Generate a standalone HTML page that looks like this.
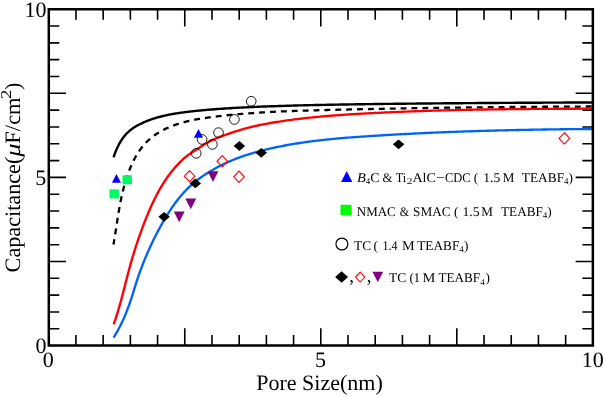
<!DOCTYPE html>
<html><head><meta charset="utf-8"><style>
html,body{margin:0;padding:0;background:#fff;}
svg{display:block;will-change:transform;}
text{font-family:"Liberation Serif",serif;fill:#000;text-rendering:geometricPrecision;}
</style></head><body>
<svg width="604" height="397" viewBox="0 0 604 397">
<rect width="604" height="397" fill="#fff"/>
<defs><clipPath id="cp"><rect x="48.75" y="9.2" width="544" height="336.4"/></clipPath></defs>

<path d="M75.95,345.5v-10.5M75.95,9.25v10.5M48.8,328.78h10.5M592.85,328.78h-10.5M103.16,345.5v-10.5M103.16,9.25v10.5M48.8,311.96h10.5M592.85,311.96h-10.5M130.37,345.5v-10.5M130.37,9.25v10.5M48.8,295.14h10.5M592.85,295.14h-10.5M157.57,345.5v-10.5M157.57,9.25v10.5M48.8,278.32h10.5M592.85,278.32h-10.5M184.77,345.5v-17.2M184.77,9.25v17.2M48.8,261.50h17.2M592.85,261.50h-17.2M211.98,345.5v-10.5M211.98,9.25v10.5M48.8,244.68h10.5M592.85,244.68h-10.5M239.19,345.5v-10.5M239.19,9.25v10.5M48.8,227.86h10.5M592.85,227.86h-10.5M266.39,345.5v-10.5M266.39,9.25v10.5M48.8,211.04h10.5M592.85,211.04h-10.5M293.59,345.5v-10.5M293.59,9.25v10.5M48.8,194.22h10.5M592.85,194.22h-10.5M320.80,345.5v-17.2M320.80,9.25v17.2M48.8,177.40h17.2M592.85,177.40h-17.2M348.00,345.5v-10.5M348.00,9.25v10.5M48.8,160.58h10.5M592.85,160.58h-10.5M375.21,345.5v-10.5M375.21,9.25v10.5M48.8,143.76h10.5M592.85,143.76h-10.5M402.41,345.5v-10.5M402.41,9.25v10.5M48.8,126.94h10.5M592.85,126.94h-10.5M429.62,345.5v-10.5M429.62,9.25v10.5M48.8,110.12h10.5M592.85,110.12h-10.5M456.82,345.5v-17.2M456.82,9.25v17.2M48.8,93.30h17.2M592.85,93.30h-17.2M484.03,345.5v-10.5M484.03,9.25v10.5M48.8,76.48h10.5M592.85,76.48h-10.5M511.23,345.5v-10.5M511.23,9.25v10.5M48.8,59.66h10.5M592.85,59.66h-10.5M538.44,345.5v-10.5M538.44,9.25v10.5M48.8,42.84h10.5M592.85,42.84h-10.5M565.64,345.5v-10.5M565.64,9.25v10.5M48.8,26.02h10.5M592.85,26.02h-10.5" stroke="#000" stroke-width="1.6" fill="none"/>
<g clip-path="url(#cp)" fill="none" stroke-linecap="butt">
<path d="M113.58,157.41L114.07,155.90L114.57,154.46L115.06,153.10L115.56,151.80L116.05,150.57L116.55,149.39L117.04,148.27L117.54,147.19L118.03,146.17L118.52,145.18L119.02,144.24L119.51,143.34L120.01,142.47L120.50,141.64L121.00,140.84L121.49,140.07L121.99,139.33L122.48,138.61L122.97,137.93L123.47,137.26L123.96,136.62L124.46,136.00L124.95,135.40L125.45,134.84L125.94,134.30L126.44,133.78L126.93,133.27L127.42,132.78L127.92,132.31L128.41,131.85L128.91,131.41L129.40,130.97L129.90,130.56L130.39,130.15L130.89,129.76L131.38,129.37L131.88,129.00L132.37,128.64L132.86,128.29L133.36,127.95L133.85,127.61L134.35,127.29L134.84,126.98L135.34,126.67L135.83,126.37L136.33,126.08L136.82,125.80L137.31,125.53L137.81,125.26L138.30,125.00L138.80,124.74L139.29,124.50L139.79,124.25L140.28,124.02L140.78,123.79L141.27,123.56L141.76,123.34L142.26,123.11L142.75,122.87L143.25,122.64L143.74,122.41L144.24,122.18L144.73,121.96L145.23,121.74L145.72,121.53L146.21,121.32L146.71,121.12L147.20,120.92L147.70,120.72L148.19,120.53L148.69,120.34L149.18,120.15L149.68,119.97L150.17,119.79L150.67,119.61L151.16,119.44L151.65,119.27L152.15,119.10L152.64,118.93L153.14,118.77L153.63,118.61L154.13,118.45L154.62,118.30L155.12,118.14L155.61,117.99L156.10,117.85L156.60,117.70L157.09,117.56L157.59,117.42L158.08,117.28L158.58,117.15L159.07,117.01L159.57,116.88L160.06,116.75L160.55,116.62L161.05,116.49L161.54,116.37L162.04,116.25L162.53,116.13L163.03,116.01L163.52,115.89L164.02,115.77L164.51,115.66L165.00,115.55L165.50,115.43L165.99,115.32L166.49,115.21L166.98,115.11L167.48,115.00L167.97,114.90L168.47,114.79L168.96,114.69L169.46,114.59L169.95,114.49L170.44,114.40L170.94,114.31L171.43,114.22L171.93,114.13L172.42,114.05L172.92,113.96L173.41,113.87L173.91,113.79L174.40,113.71L174.89,113.63L175.39,113.55L175.88,113.47L176.38,113.39L176.87,113.31L177.37,113.23L177.86,113.16L178.36,113.08L178.85,113.01L179.34,112.94L179.84,112.86L180.33,112.79L180.83,112.72L181.32,112.65L181.82,112.58L182.31,112.52L182.81,112.45L183.30,112.38L183.79,112.32L184.29,112.25L184.78,112.19L185.28,112.12L185.77,112.06L186.27,112.00L186.76,111.94L187.26,111.88L187.75,111.82L188.25,111.76L188.74,111.70L189.23,111.64L189.73,111.58L190.22,111.52L190.72,111.47L191.21,111.41L191.71,111.36L192.20,111.30L192.70,111.25L193.19,111.19L193.68,111.14L194.18,111.09L194.67,111.03L195.17,110.98L195.66,110.93L196.16,110.88L196.65,110.83L197.15,110.78L197.64,110.73L198.13,110.68L198.63,110.64L199.12,110.59L199.62,110.54L200.11,110.49L200.61,110.45L201.10,110.40L201.60,110.35L202.09,110.30L202.58,110.26L203.08,110.21L203.57,110.17L204.07,110.12L204.56,110.08L205.06,110.03L205.55,109.99L206.05,109.94L206.54,109.90L207.04,109.86L207.53,109.82L208.02,109.77L208.52,109.73L209.01,109.69L209.51,109.65L210.00,109.61L210.50,109.57L210.99,109.53L211.49,109.49L211.98,109.45L214.55,109.25L217.13,109.06L219.70,108.87L222.28,108.70L224.85,108.53L227.43,108.36L230.00,108.20L232.58,108.05L235.15,107.91L237.72,107.76L240.30,107.63L242.87,107.49L245.45,107.36L248.02,107.24L250.60,107.12L253.17,107.00L255.75,106.89L258.32,106.78L260.89,106.67L263.47,106.57L266.04,106.47L268.62,106.38L271.19,106.28L273.77,106.19L276.34,106.10L278.92,106.02L281.49,105.93L284.06,105.85L286.64,105.77L289.21,105.69L291.79,105.62L294.36,105.54L296.94,105.47L299.51,105.40L302.09,105.34L304.66,105.28L307.23,105.22L309.81,105.16L312.38,105.10L314.96,105.05L317.53,104.99L320.11,104.94L322.68,104.89L325.26,104.84L327.83,104.79L330.40,104.74L332.98,104.69L335.55,104.64L338.13,104.60L340.70,104.55L343.28,104.51L345.85,104.47L348.42,104.43L351.00,104.39L353.57,104.35L356.15,104.31L358.72,104.27L361.30,104.23L363.87,104.19L366.45,104.16L369.02,104.12L371.59,104.09L374.17,104.05L376.74,104.02L379.32,103.99L381.89,103.95L384.47,103.92L387.04,103.89L389.62,103.86L392.19,103.83L394.76,103.80L397.34,103.77L399.91,103.74L402.49,103.71L405.06,103.69L407.64,103.66L410.21,103.63L412.79,103.61L415.36,103.58L417.93,103.55L420.51,103.53L423.08,103.50L425.66,103.48L428.23,103.46L430.81,103.43L433.38,103.41L435.96,103.39L438.53,103.36L441.10,103.34L443.68,103.32L446.25,103.30L448.83,103.28L451.40,103.26L453.98,103.24L456.55,103.22L459.13,103.20L461.70,103.18L464.27,103.16L466.85,103.14L469.42,103.12L472.00,103.10L474.57,103.08L477.15,103.06L479.72,103.04L482.30,103.03L484.87,103.01L487.44,102.99L490.02,102.98L492.59,102.96L495.17,102.94L497.74,102.93L500.32,102.91L502.89,102.89L505.47,102.88L508.04,102.86L510.61,102.85L513.19,102.83L515.76,102.82L518.34,102.80L520.91,102.79L523.49,102.77L526.06,102.76L528.64,102.74L531.21,102.73L533.78,102.72L536.36,102.70L538.93,102.69L541.51,102.68L544.08,102.66L546.66,102.65L549.23,102.64L551.81,102.63L554.38,102.61L556.95,102.60L559.53,102.59L562.10,102.58L564.68,102.56L567.25,102.55L569.83,102.54L572.40,102.53L574.98,102.52L577.55,102.51L580.12,102.49L582.70,102.48L585.27,102.47L587.85,102.46L590.42,102.45L593.00,102.44L595.57,102.43" stroke="#000" stroke-width="2.4"/>
<path d="M113.46,244.51L113.70,243.14L113.94,241.77L114.17,240.40L114.40,239.02L114.63,237.64L114.85,236.26L115.07,234.87L115.29,233.49L115.51,232.10L115.73,230.71L115.94,229.33L116.16,227.93L116.37,226.54L116.59,225.15L116.80,223.76L117.02,222.36L117.24,220.97L117.45,219.57L117.67,218.18L117.90,216.78L118.12,215.38L118.35,213.99L118.58,212.59L118.82,211.20L119.06,209.80L119.30,208.41L119.55,207.02L119.80,205.62L120.06,204.23L120.32,202.84L120.60,201.45L120.87,200.06L121.16,198.68L121.45,197.29L121.75,195.91L122.05,194.53L122.37,193.15L122.69,191.77L123.03,190.40L123.37,189.03L123.72,187.66L124.08,186.29L124.45,184.93L124.84,183.57L125.23,182.21L125.64,180.85L126.05,179.50L126.48,178.15L126.93,176.81L127.38,175.47L127.85,174.13L128.33,172.80L128.83,171.47L129.34,170.15L129.87,168.82L130.41,167.51L130.96,166.20L131.54,164.90L132.13,163.60L132.73,162.31L133.36,161.03L134.00,159.76L134.66,158.50L135.34,157.26L136.04,156.02L136.77,154.80L137.51,153.59L138.27,152.40L139.06,151.23L139.87,150.07L140.69,148.93L141.55,147.80L142.42,146.70L143.31,145.62L144.23,144.55L145.17,143.51L146.13,142.50L147.11,141.50L148.11,140.54L149.14,139.59L150.18,138.68L151.25,137.78L152.34,136.91L153.44,136.07L154.57,135.25L155.71,134.45L156.87,133.68L158.04,132.93L159.24,132.20L160.44,131.50L161.66,130.81L162.90,130.15L164.15,129.51L165.41,128.89L166.68,128.29L167.97,127.71L169.26,127.15L170.57,126.60L171.88,126.08L173.21,125.58L174.54,125.09L175.88,124.63L177.22,124.18L178.57,123.74L179.93,123.33L181.29,122.93L182.66,122.54L184.02,122.18L185.39,121.82L186.77,121.49L188.14,121.16L189.52,120.86L190.90,120.56L192.28,120.27L193.67,120.00L195.05,119.73L196.44,119.48L197.83,119.23L199.22,118.99L200.61,118.76L202.00,118.53L203.39,118.31L204.79,118.09L206.19,117.88L207.58,117.67L208.98,117.47L210.38,117.28L211.78,117.09L213.19,116.90L214.59,116.72L215.99,116.54L217.40,116.37L218.80,116.20L220.21,116.03L221.61,115.87L223.02,115.71L224.43,115.56L225.83,115.41L227.24,115.26L228.65,115.12L230.06,114.98L231.46,114.84L232.87,114.70L234.28,114.57L235.69,114.44L237.10,114.31L238.50,114.19L239.91,114.07L241.32,113.95L242.73,113.83L244.14,113.72L245.54,113.60L246.95,113.49L248.36,113.39L249.77,113.28L251.18,113.18L252.59,113.08L253.99,112.98L255.40,112.88L256.81,112.79L258.22,112.70L259.63,112.61L261.04,112.52L262.45,112.44L263.85,112.35L265.26,112.27L266.67,112.19L268.08,112.11L269.49,112.04L270.90,111.96L272.31,111.89L273.72,111.82L275.12,111.75L276.53,111.68L277.94,111.61L279.35,111.55L280.76,111.48L282.17,111.42L283.58,111.36L284.99,111.30L286.40,111.25L287.81,111.19L289.22,111.13L290.63,111.08L292.04,111.03L293.45,110.98L294.85,110.93L296.26,110.88L297.67,110.83L299.08,110.78L300.49,110.74L301.90,110.69L303.31,110.65L304.72,110.60L306.13,110.56L307.54,110.52L308.95,110.48L310.36,110.44L311.77,110.40L313.18,110.36L314.59,110.32L316.00,110.28L317.41,110.24L318.82,110.21L320.23,110.17L321.64,110.14L323.05,110.10L324.46,110.06L325.87,110.03L327.28,109.99L328.69,109.96L330.10,109.93L331.51,109.89L332.92,109.86L334.33,109.82L335.74,109.79L337.15,109.76L338.56,109.72L339.97,109.69L341.38,109.66L342.79,109.62L344.21,109.59L345.62,109.56L347.03,109.53L348.44,109.49L349.85,109.46L351.26,109.43L352.67,109.40L354.08,109.37L355.49,109.34L356.90,109.31L358.31,109.27L359.72,109.24L361.13,109.21L362.54,109.18L363.95,109.15L365.36,109.12L366.78,109.09L368.19,109.06L369.60,109.03L371.01,109.00L372.42,108.97L373.83,108.95L375.24,108.92L376.65,108.89L378.06,108.86L379.47,108.83L380.89,108.80L382.30,108.78L383.71,108.75L385.12,108.72L386.53,108.69L387.94,108.67L389.35,108.64L390.76,108.61L392.17,108.59L393.58,108.56L395.00,108.53L396.41,108.51L397.82,108.48L399.23,108.46L400.64,108.43L402.05,108.41L403.46,108.38L404.87,108.36L406.29,108.33L407.70,108.31L409.11,108.28L410.52,108.26L411.93,108.24L413.34,108.21L414.75,108.19L416.16,108.17L417.58,108.14L418.99,108.12L420.40,108.10L421.81,108.08L423.22,108.05L424.63,108.03L426.04,108.01L427.46,107.99L428.87,107.97L430.28,107.95L431.69,107.92L433.10,107.90L434.51,107.88L435.92,107.86L437.34,107.84L438.75,107.82L440.16,107.80L441.57,107.78L442.98,107.76L444.39,107.74L445.81,107.73L447.22,107.71L448.63,107.69L450.04,107.67L451.45,107.65L452.86,107.63L454.27,107.62L455.69,107.60L457.10,107.58L458.51,107.56L459.92,107.54L461.33,107.53L462.74,107.51L464.16,107.49L465.57,107.48L466.98,107.46L468.39,107.44L469.80,107.43L471.21,107.41L472.62,107.40L474.04,107.38L475.45,107.36L476.86,107.35L478.27,107.33L479.68,107.32L481.09,107.30L482.51,107.29L483.92,107.27L485.33,107.26L486.74,107.24L488.15,107.23L489.56,107.22L490.98,107.20L492.39,107.19L493.80,107.17L495.21,107.16L496.62,107.15L498.03,107.13L499.44,107.12L500.86,107.11L502.27,107.09L503.68,107.08L505.09,107.07L506.50,107.06L507.91,107.04L509.32,107.03L510.74,107.02L512.15,107.01L513.56,106.99L514.97,106.98L516.38,106.97L517.79,106.96L519.21,106.95L520.62,106.94L522.03,106.92L523.44,106.91L524.85,106.90L526.26,106.89L527.67,106.88L529.09,106.87L530.50,106.86L531.91,106.85L533.32,106.84L534.73,106.83L536.14,106.82L537.55,106.81L538.96,106.80L540.38,106.79L541.79,106.78L543.20,106.77L544.61,106.76L546.02,106.75L547.43,106.74L548.84,106.73L550.25,106.72L551.67,106.71L553.08,106.70L554.49,106.69L555.90,106.68L557.31,106.67L558.72,106.66L560.13,106.65L561.54,106.65L562.95,106.64L564.37,106.63L565.78,106.62L567.19,106.61L568.60,106.60L570.01,106.59L571.42,106.59L572.83,106.58L574.24,106.57L575.65,106.56L577.06,106.55L578.48,106.54L579.89,106.54L581.30,106.53L582.71,106.52L584.12,106.51L585.53,106.51L586.94,106.50L588.35,106.49L589.76,106.48L591.17,106.47L592.58,106.47L593.99,106.46" stroke="#000" stroke-width="2.3" stroke-dashoffset="0.6" stroke-dasharray="5.9 4.99"/>
<path d="M113.66,324.38L114.17,322.94L114.67,321.50L115.16,320.06L115.64,318.62L116.11,317.18L116.58,315.73L117.03,314.29L117.48,312.84L117.92,311.39L118.36,309.95L118.78,308.50L119.20,307.05L119.62,305.60L120.03,304.15L120.43,302.70L120.83,301.25L121.23,299.79L121.62,298.34L122.01,296.89L122.39,295.44L122.77,293.98L123.15,292.53L123.53,291.07L123.90,289.62L124.28,288.17L124.65,286.71L125.02,285.26L125.39,283.80L125.76,282.35L126.13,280.90L126.51,279.44L126.88,277.99L127.25,276.53L127.63,275.08L128.01,273.63L128.39,272.18L128.77,270.72L129.16,269.27L129.55,267.82L129.94,266.37L130.34,264.92L130.74,263.47L131.15,262.03L131.57,260.58L131.98,259.13L132.41,257.69L132.84,256.24L133.28,254.80L133.72,253.36L134.16,251.92L134.62,250.48L135.07,249.04L135.53,247.60L136.00,246.16L136.47,244.73L136.95,243.29L137.43,241.86L137.91,240.43L138.40,239.00L138.89,237.57L139.39,236.15L139.89,234.72L140.40,233.30L140.91,231.88L141.42,230.46L141.94,229.04L142.46,227.63L142.99,226.22L143.52,224.80L144.06,223.39L144.61,221.99L145.15,220.58L145.71,219.18L146.27,217.78L146.83,216.38L147.41,214.98L147.98,213.59L148.57,212.20L149.16,210.81L149.76,209.43L150.36,208.05L150.98,206.67L151.60,205.29L152.23,203.93L152.87,202.56L153.51,201.20L154.17,199.84L154.84,198.49L155.51,197.15L156.20,195.81L156.89,194.47L157.60,193.15L158.32,191.82L159.05,190.51L159.79,189.20L160.54,187.90L161.30,186.61L162.08,185.32L162.87,184.04L163.67,182.77L164.48,181.51L165.31,180.25L166.15,179.01L167.01,177.77L167.88,176.54L168.77,175.32L169.67,174.12L170.58,172.92L171.51,171.73L172.46,170.55L173.42,169.38L174.40,168.23L175.40,167.08L176.41,165.95L177.44,164.82L178.49,163.72L179.55,162.62L180.64,161.55L181.73,160.49L182.84,159.46L183.97,158.45L185.11,157.47L186.27,156.52L187.44,155.61L188.62,154.73L189.82,153.88L191.02,153.07L192.24,152.28L193.47,151.50L194.72,150.72L195.97,149.92L197.23,149.10L198.51,148.26L199.79,147.42L201.08,146.57L202.38,145.73L203.69,144.90L205.00,144.08L206.32,143.29L207.65,142.53L208.99,141.79L210.33,141.09L211.68,140.42L213.03,139.77L214.40,139.14L215.76,138.54L217.13,137.95L218.51,137.39L219.89,136.84L221.28,136.31L222.68,135.79L224.08,135.28L225.48,134.79L226.89,134.30L228.30,133.82L229.72,133.35L231.14,132.88L232.57,132.41L234.00,131.94L235.43,131.49L236.87,131.03L238.31,130.58L239.75,130.14L241.20,129.71L242.65,129.28L244.11,128.86L245.57,128.45L247.03,128.05L248.49,127.67L249.96,127.29L251.42,126.92L252.89,126.57L254.37,126.22L255.84,125.89L257.32,125.57L258.80,125.25L260.28,124.95L261.76,124.65L263.24,124.36L264.72,124.08L266.21,123.80L267.69,123.54L269.18,123.27L270.67,123.01L272.15,122.76L273.64,122.51L275.13,122.26L276.62,122.02L278.11,121.79L279.60,121.55L281.09,121.33L282.58,121.10L284.07,120.88L285.56,120.66L287.05,120.45L288.54,120.24L290.04,120.04L291.53,119.84L293.02,119.64L294.51,119.45L296.01,119.26L297.50,119.07L299.00,118.89L300.49,118.71L301.99,118.53L303.48,118.36L304.98,118.19L306.48,118.02L307.97,117.86L309.47,117.70L310.97,117.55L312.47,117.39L313.96,117.24L315.46,117.09L316.96,116.95L318.46,116.81L319.96,116.67L321.46,116.53L322.96,116.40L324.46,116.26L325.96,116.13L327.46,116.01L328.96,115.88L330.46,115.76L331.96,115.64L333.46,115.53L334.96,115.41L336.47,115.30L337.97,115.19L339.47,115.08L340.97,114.97L342.47,114.87L343.98,114.76L345.48,114.66L346.98,114.56L348.49,114.47L349.99,114.37L351.49,114.28L353.00,114.18L354.50,114.09L356.00,114.00L357.51,113.92L359.01,113.83L360.51,113.74L362.02,113.66L363.52,113.58L365.03,113.49L366.53,113.41L368.04,113.33L369.54,113.25L371.05,113.18L372.55,113.10L374.05,113.02L375.56,112.95L377.06,112.87L378.57,112.80L380.07,112.73L381.58,112.65L383.08,112.58L384.59,112.51L386.09,112.44L387.60,112.38L389.10,112.31L390.61,112.24L392.12,112.18L393.62,112.11L395.13,112.05L396.63,111.98L398.14,111.92L399.64,111.86L401.15,111.80L402.65,111.74L404.16,111.68L405.66,111.62L407.17,111.56L408.68,111.50L410.18,111.45L411.69,111.39L413.19,111.34L414.70,111.28L416.21,111.23L417.71,111.18L419.22,111.13L420.72,111.07L422.23,111.02L423.74,110.97L425.24,110.93L426.75,110.88L428.25,110.83L429.76,110.78L431.27,110.74L432.77,110.69L434.28,110.65L435.79,110.60L437.29,110.56L438.80,110.52L440.31,110.47L441.81,110.43L443.32,110.39L444.83,110.35L446.33,110.31L447.84,110.27L449.35,110.23L450.85,110.20L452.36,110.16L453.87,110.12L455.37,110.09L456.88,110.05L458.39,110.02L459.89,109.98L461.40,109.95L462.91,109.92L464.41,109.88L465.92,109.85L467.43,109.82L468.93,109.79L470.44,109.76L471.95,109.73L473.45,109.70L474.96,109.67L476.47,109.65L477.97,109.62L479.48,109.59L480.99,109.57L482.50,109.54L484.00,109.51L485.51,109.49L487.02,109.46L488.52,109.44L490.03,109.42L491.54,109.39L493.04,109.37L494.55,109.35L496.06,109.33L497.57,109.31L499.07,109.29L500.58,109.27L502.09,109.25L503.59,109.23L505.10,109.21L506.61,109.19L508.11,109.17L509.62,109.16L511.13,109.14L512.64,109.12L514.14,109.10L515.65,109.09L517.16,109.07L518.66,109.06L520.17,109.04L521.68,109.03L523.18,109.01L524.69,109.00L526.20,108.99L527.71,108.97L529.21,108.96L530.72,108.95L532.23,108.94L533.73,108.93L535.24,108.91L536.75,108.90L538.25,108.89L539.76,108.88L541.27,108.87L542.77,108.86L544.28,108.85L545.79,108.84L547.29,108.83L548.80,108.82L550.31,108.82L551.82,108.81L553.32,108.80L554.83,108.79L556.34,108.79L557.84,108.78L559.35,108.77L560.85,108.76L562.36,108.76L563.87,108.75L565.37,108.75L566.88,108.74L568.39,108.73L569.89,108.73L571.40,108.72L572.91,108.72L574.41,108.71L575.92,108.71L577.43,108.70L578.93,108.70L580.44,108.69L581.94,108.69L583.45,108.69L584.96,108.68L586.46,108.68L587.97,108.68L589.47,108.67L590.98,108.67L592.49,108.67L593.99,108.66" stroke="#ff0000" stroke-width="2.35"/>
<path d="M113.56,337.60L114.34,336.37L115.10,335.12L115.84,333.87L116.58,332.61L117.30,331.34L118.01,330.06L118.71,328.77L119.39,327.48L120.06,326.17L120.72,324.86L121.37,323.55L122.00,322.22L122.63,320.89L123.24,319.55L123.84,318.21L124.43,316.86L125.01,315.51L125.58,314.15L126.14,312.79L126.68,311.42L127.22,310.05L127.74,308.67L128.26,307.29L128.77,305.91L129.26,304.52L129.75,303.13L130.23,301.74L130.69,300.35L131.16,298.95L131.61,297.55L132.06,296.16L132.50,294.76L132.94,293.36L133.38,291.96L133.81,290.56L134.25,289.16L134.68,287.76L135.12,286.36L135.55,284.96L135.99,283.56L136.44,282.17L136.89,280.78L137.34,279.39L137.80,278.00L138.27,276.61L138.75,275.23L139.23,273.85L139.72,272.47L140.21,271.09L140.72,269.72L141.23,268.35L141.74,266.98L142.26,265.62L142.79,264.25L143.33,262.89L143.87,261.53L144.42,260.18L144.97,258.82L145.53,257.47L146.10,256.12L146.68,254.78L147.26,253.43L147.84,252.09L148.44,250.75L149.04,249.41L149.64,248.08L150.26,246.74L150.88,245.41L151.50,244.08L152.13,242.76L152.77,241.43L153.41,240.11L154.06,238.79L154.72,237.47L155.38,236.16L156.05,234.84L156.73,233.53L157.41,232.22L158.10,230.92L158.79,229.62L159.49,228.32L160.20,227.02L160.91,225.73L161.63,224.44L162.35,223.16L163.09,221.88L163.83,220.61L164.57,219.34L165.33,218.07L166.09,216.82L166.85,215.56L167.63,214.32L168.41,213.08L169.20,211.84L170.00,210.62L170.80,209.40L171.61,208.18L172.43,206.98L173.26,205.78L174.10,204.59L174.95,203.41L175.81,202.23L176.68,201.07L177.57,199.91L178.47,198.77L179.38,197.63L180.31,196.50L181.25,195.38L182.21,194.28L183.19,193.18L184.18,192.09L185.19,191.02L186.21,189.96L187.25,188.91L188.30,187.87L189.36,186.85L190.44,185.84L191.53,184.85L192.64,183.87L193.76,182.91L194.89,181.97L196.03,181.04L197.18,180.13L198.34,179.24L199.52,178.37L200.70,177.51L201.90,176.68L203.10,175.86L204.32,175.06L205.54,174.26L206.77,173.47L208.02,172.69L209.26,171.91L210.52,171.15L211.78,170.39L213.05,169.65L214.33,168.91L215.61,168.20L216.90,167.49L218.20,166.80L219.50,166.13L220.81,165.46L222.12,164.81L223.44,164.17L224.77,163.54L226.10,162.92L227.43,162.32L228.77,161.73L230.12,161.15L231.47,160.58L232.83,160.02L234.19,159.47L235.55,158.93L236.92,158.41L238.29,157.89L239.67,157.38L241.05,156.89L242.43,156.40L243.82,155.92L245.21,155.46L246.61,155.00L248.01,154.55L249.41,154.11L250.81,153.68L252.22,153.26L253.63,152.84L255.04,152.44L256.46,152.04L257.88,151.65L259.30,151.26L260.72,150.89L262.14,150.52L263.57,150.16L264.99,149.80L266.42,149.46L267.85,149.12L269.28,148.78L270.71,148.45L272.15,148.13L273.58,147.81L275.02,147.50L276.45,147.20L277.89,146.90L279.33,146.60L280.76,146.31L282.20,146.03L283.64,145.75L285.08,145.48L286.53,145.21L287.97,144.95L289.41,144.69L290.86,144.44L292.30,144.19L293.75,143.95L295.19,143.71L296.64,143.48L298.09,143.25L299.54,143.03L300.99,142.81L302.44,142.59L303.89,142.38L305.34,142.17L306.79,141.97L308.24,141.77L309.69,141.58L311.15,141.39L312.60,141.20L314.06,141.02L315.51,140.84L316.97,140.66L318.42,140.49L319.88,140.32L321.34,140.16L322.80,139.99L324.25,139.83L325.71,139.68L327.17,139.53L328.63,139.38L330.09,139.23L331.55,139.09L333.01,138.95L334.47,138.81L335.93,138.67L337.39,138.54L338.86,138.41L340.32,138.28L341.78,138.15L343.24,138.03L344.71,137.91L346.17,137.79L347.63,137.67L349.10,137.56L350.56,137.44L352.03,137.33L353.49,137.22L354.96,137.11L356.42,137.01L357.88,136.90L359.35,136.80L360.82,136.70L362.28,136.59L363.75,136.49L365.21,136.40L366.68,136.30L368.14,136.20L369.61,136.11L371.07,136.01L372.54,135.92L374.00,135.82L375.47,135.73L376.93,135.64L378.40,135.55L379.87,135.46L381.33,135.37L382.80,135.28L384.26,135.19L385.73,135.10L387.19,135.02L388.66,134.93L390.12,134.85L391.59,134.76L393.06,134.68L394.52,134.60L395.99,134.51L397.45,134.43L398.92,134.35L400.38,134.27L401.85,134.19L403.32,134.12L404.78,134.04L406.25,133.96L407.71,133.89L409.18,133.81L410.64,133.74L412.11,133.66L413.58,133.59L415.04,133.52L416.51,133.45L417.97,133.37L419.44,133.30L420.91,133.23L422.37,133.17L423.84,133.10L425.30,133.03L426.77,132.96L428.23,132.90L429.70,132.83L431.17,132.77L432.63,132.70L434.10,132.64L435.56,132.58L437.03,132.51L438.50,132.45L439.96,132.39L441.43,132.33L442.90,132.27L444.36,132.21L445.83,132.15L447.29,132.10L448.76,132.04L450.23,131.98L451.69,131.93L453.16,131.87L454.62,131.82L456.09,131.76L457.56,131.71L459.02,131.66L460.49,131.60L461.96,131.55L463.42,131.50L464.89,131.45L466.35,131.40L467.82,131.35L469.29,131.30L470.75,131.26L472.22,131.21L473.69,131.16L475.15,131.11L476.62,131.07L478.09,131.02L479.55,130.98L481.02,130.93L482.49,130.89L483.95,130.85L485.42,130.81L486.89,130.76L488.35,130.72L489.82,130.68L491.29,130.64L492.75,130.60L494.22,130.56L495.69,130.52L497.15,130.48L498.62,130.45L500.09,130.41L501.55,130.37L503.02,130.34L504.49,130.30L505.95,130.27L507.42,130.23L508.89,130.20L510.35,130.16L511.82,130.13L513.29,130.10L514.76,130.07L516.22,130.03L517.69,130.00L519.16,129.97L520.62,129.94L522.09,129.91L523.56,129.88L525.02,129.85L526.49,129.82L527.96,129.80L529.43,129.77L530.89,129.74L532.36,129.71L533.83,129.69L535.30,129.66L536.76,129.64L538.23,129.61L539.70,129.59L541.16,129.56L542.63,129.54L544.10,129.52L545.57,129.49L547.03,129.47L548.50,129.45L549.97,129.43L551.44,129.41L552.90,129.38L554.37,129.36L555.84,129.34L557.31,129.32L558.77,129.30L560.24,129.29L561.71,129.27L563.18,129.25L564.65,129.23L566.11,129.21L567.58,129.20L569.05,129.18L570.52,129.16L571.98,129.15L573.45,129.13L574.92,129.11L576.39,129.10L577.86,129.09L579.32,129.07L580.79,129.06L582.26,129.04L583.73,129.03L585.20,129.02L586.67,129.00L588.13,128.99L589.60,128.98L591.07,128.97L592.54,128.96L594.01,128.94" stroke="#0064f8" stroke-width="2.35"/>
</g>
<rect x="48.8" y="9.25" width="544.0500000000001" height="336.25" fill="none" stroke="#000" stroke-width="2.5"/>
<circle cx="251.2" cy="101.25" r="4.85" fill="none" stroke="#000" stroke-width="0.9"/>
<circle cx="234.4" cy="119.45" r="4.85" fill="none" stroke="#000" stroke-width="0.9"/>
<circle cx="218.5" cy="132.65" r="4.85" fill="none" stroke="#000" stroke-width="0.9"/>
<circle cx="202.1" cy="139.45" r="4.85" fill="none" stroke="#000" stroke-width="0.9"/>
<circle cx="212.4" cy="144.4" r="4.85" fill="none" stroke="#000" stroke-width="0.9"/>
<circle cx="196.25" cy="153.35" r="4.85" fill="none" stroke="#000" stroke-width="0.9"/>
<path d="M116.45,173.9L121.0,182.75L111.9,182.75Z" fill="#0000ff"/>
<path d="M198.5,128.9L203.05,137.7L193.95,137.7Z" fill="#0000ff"/>
<rect x="122.50" y="175.25" width="9.4" height="9.1" fill="#00f860"/>
<rect x="109.50" y="189.35" width="9.4" height="9.1" fill="#00f860"/>
<path d="M189.6,170.54999999999998L194.9,176.2L189.6,181.85L184.29999999999998,176.2Z" fill="none" stroke="#ff0000" stroke-width="1.1"/>
<path d="M222.3,155.65L227.60000000000002,161.3L222.3,166.95000000000002L217.0,161.3Z" fill="none" stroke="#ff0000" stroke-width="1.1"/>
<path d="M239,171.15L244.3,176.8L239,182.45000000000002L233.7,176.8Z" fill="none" stroke="#ff0000" stroke-width="1.1"/>
<path d="M564.4,132.75L569.6999999999999,138.4L564.4,144.05L559.1,138.4Z" fill="none" stroke="#ff0000" stroke-width="1.1"/>
<path d="M164.1,211.95L169.85,216.85L164.1,221.75L158.35,216.85Z" fill="#000"/>
<path d="M195.3,178.5L201.05,183.4L195.3,188.3L189.55,183.4Z" fill="#000"/>
<path d="M239.4,141.1L245.15,146.0L239.4,150.9L233.65,146.0Z" fill="#000"/>
<path d="M261.25,147.95L267.0,152.85L261.25,157.75L255.5,152.85Z" fill="#000"/>
<path d="M398.6,139.45L404.35,144.35L398.6,149.25L392.85,144.35Z" fill="#000"/>
<path d="M185.4,198.4L196.20000000000002,198.4L190.8,209.2Z" fill="#800080"/>
<path d="M173.79999999999998,211.5L184.6,211.5L179.2,222.3Z" fill="#800080"/>
<path d="M207.6,171.3L218.4,171.3L213,182.1Z" fill="#800080"/>
<g font-size="22">
<text x="46.6" y="16.7" text-anchor="end">10</text>
<text x="46.2" y="184.6" text-anchor="end">5</text>
<text x="46.6" y="353" text-anchor="end">0</text>
<text x="48.3" y="367.2" text-anchor="middle">0</text>
<text x="320.4" y="367.2" text-anchor="middle">5</text>
<text x="592.8" y="367.2" text-anchor="middle">10</text>
<text x="256.2" y="389.7" textLength="126.6" lengthAdjust="spacingAndGlyphs">Pore Size(nm)</text>
<text transform="translate(19.7,272.4) rotate(-90)"><tspan x="0" textLength="115.7" lengthAdjust="spacingAndGlyphs">Capacitance(</tspan><tspan font-style="italic" x="115.7" textLength="13.36" lengthAdjust="spacingAndGlyphs">μ</tspan><tspan x="128.75" textLength="46.3" lengthAdjust="spacingAndGlyphs">F/cm</tspan><tspan font-size="15" x="173.5" dy="-8.4" textLength="9.4" lengthAdjust="spacingAndGlyphs">2</tspan><tspan x="182.5" dy="8.4">)</tspan></text>
</g>
<g>
<path d="M346.7,171.0L352.3,181.95L341.09999999999997,181.95Z" fill="#0000ff"/>
<rect x="340.5" y="204.75" width="10.9" height="10.4" fill="#00ff00"/>
<circle cx="341.9" cy="244.0" r="5.95" fill="none" stroke="#000" stroke-width="1.2"/>
<path d="M341.6,271.25L348.1,277.0L341.6,282.75L335.1,277.0Z" fill="#000"/>
<path d="M360.2,272.05L364.8,277.05L360.2,282.05L355.59999999999997,277.05Z" fill="none" stroke="#ff0000" stroke-width="1.1"/>
<path d="M372.45,271.8L383.15000000000003,271.8L377.8,282.2Z" fill="#800080"/>
<text x="349.2" y="281.6" font-size="19">,</text>
<text x="366.8" y="281.6" font-size="19">,</text>
<text x="357.02" y="182.15" font-size="13.3" font-style="italic" textLength="8.85" lengthAdjust="spacingAndGlyphs">B</text>
<text x="365.71" y="184.35" font-size="8.9">4</text>
<text x="370.38" y="182.15" font-size="13.3" textLength="9.23" lengthAdjust="spacingAndGlyphs">C</text>
<text x="382.46" y="182.15" font-size="13.3" textLength="10.02" lengthAdjust="spacingAndGlyphs">&amp;</text>
<text x="395.64" y="182.15" font-size="13.3" textLength="10.54" lengthAdjust="spacingAndGlyphs">Ti</text>
<text x="406.76" y="184.35" font-size="8.9" textLength="5.61" lengthAdjust="spacingAndGlyphs">2</text>
<text x="412.41" y="182.15" font-size="13.3" textLength="23.52" lengthAdjust="spacingAndGlyphs">AlC</text>
<text x="436.29" y="182.15" font-size="13.3" textLength="8.60" lengthAdjust="spacingAndGlyphs">−</text>
<text x="444.94" y="182.15" font-size="13.3" textLength="25.55" lengthAdjust="spacingAndGlyphs">CDC</text>
<text x="473.66" y="182.15" font-size="13.3">(</text>
<text x="483.26" y="182.15" font-size="13.3" textLength="16.92" lengthAdjust="spacingAndGlyphs">1.5</text>
<text x="502.67" y="182.15" font-size="13.3" textLength="11.61" lengthAdjust="spacingAndGlyphs">M</text>
<text x="521.81" y="182.15" font-size="13.3" textLength="42.32" lengthAdjust="spacingAndGlyphs">TEABF</text>
<text x="564.06" y="184.35" font-size="8.9">4</text>
<text x="568.41" y="182.15" font-size="13.3">)</text>
<text x="356.78" y="215.55" font-size="13.3" textLength="38.99" lengthAdjust="spacingAndGlyphs">NMAC</text>
<text x="399.79" y="215.55" font-size="13.3" textLength="9.38" lengthAdjust="spacingAndGlyphs">&amp;</text>
<text x="413.06" y="215.55" font-size="13.3" textLength="37.52" lengthAdjust="spacingAndGlyphs">SMAC</text>
<text x="454.11" y="215.55" font-size="13.3">(</text>
<text x="462.44" y="215.55" font-size="13.3" textLength="17.14" lengthAdjust="spacingAndGlyphs">1.5</text>
<text x="481.37" y="215.55" font-size="13.3" textLength="11.66" lengthAdjust="spacingAndGlyphs">M</text>
<text x="501.01" y="215.55" font-size="13.3" textLength="41.92" lengthAdjust="spacingAndGlyphs">TEABF</text>
<text x="542.81" y="217.75" font-size="8.9">4</text>
<text x="547.26" y="215.55" font-size="13.3">)</text>
<text x="354.11" y="249.90" font-size="13.3" textLength="16.97" lengthAdjust="spacingAndGlyphs">TC</text>
<text x="373.56" y="249.90" font-size="13.3">(</text>
<text x="382.39" y="249.90" font-size="13.3" textLength="15.05" lengthAdjust="spacingAndGlyphs">1.4</text>
<text x="401.94" y="249.90" font-size="13.3" textLength="12.63" lengthAdjust="spacingAndGlyphs">M</text>
<text x="417.26" y="249.90" font-size="13.3" textLength="42.12" lengthAdjust="spacingAndGlyphs">TEABF</text>
<text x="459.36" y="252.10" font-size="8.9">4</text>
<text x="463.96" y="249.90" font-size="13.3">)</text>
<text x="389.11" y="282.40" font-size="13.3" textLength="17.19" lengthAdjust="spacingAndGlyphs">TC</text>
<text x="409.41" y="282.40" font-size="13.3">(</text>
<text x="413.59" y="282.40" font-size="13.3">1</text>
<text x="422.53" y="282.40" font-size="13.3" textLength="12.84" lengthAdjust="spacingAndGlyphs">M</text>
<text x="438.51" y="282.40" font-size="13.3" textLength="41.71" lengthAdjust="spacingAndGlyphs">TEABF</text>
<text x="480.21" y="284.60" font-size="8.9">4</text>
<text x="485.46" y="282.40" font-size="13.3">)</text>
</g>
</svg></body></html>
